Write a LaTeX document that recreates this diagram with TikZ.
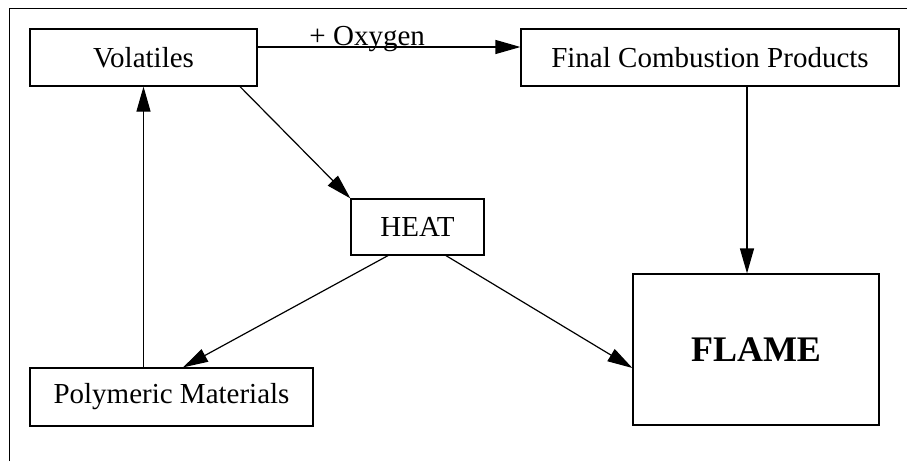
\documentclass[tikz,border=0pt]{standalone}
\usepackage{fontspec}
\setmainfont{Liberation Serif}
\usetikzlibrary{arrows.meta}
\tikzset{
	box/.style={draw, line width=1.2pt, inner sep=0pt, font=\fontsize{29}{34}\selectfont},
	link/.style={line width=1.2pt, -{Triangle[length=25pt,width=14pt]}}
}

\begin{document}
\begin{tikzpicture}[x=1pt, y=-1pt]
			%%%%% START %%%%%
			\useasboundingbox (0, 0) rectangle (907, 461);
			
			\draw[line width=1.5pt] (9.5, 461) -- (9.5, 8.5) -- (907, 8.5);
			
			\node[box, minimum width=227pt, minimum height=57pt] (vol) at (143.5, 57.5) {Volatiles};
			\node[box, minimum width=378pt, minimum height=57pt] (fin) at (710, 57.5) {Final Combustion Products};
			\node[box, minimum width=133pt, minimum height=56pt] (heat) at (417.5, 227) {HEAT};
			\node[box, minimum width=283pt, minimum height=58pt] (poly) at (171.5, 397) {Polymeric Materials};
			\node[box, minimum width=246pt, minimum height=151pt, font=\fontsize{36}{42}\selectfont\bfseries] (flame) at (756, 349.5) {FLAME};
			
			\draw[link] ([yshift=10.5pt]vol.east) -- ([yshift=10.5pt]fin.west)
				node[pos=0.417, anchor=base, yshift=2pt, font=\fontsize{29}{34}\selectfont] {+ Oxygen};
			\draw[link] ([xshift=96.5pt]vol.south) -- (heat.north west);
			\draw[link] (poly.north -| vol.south) -- (vol.south);
			\draw[link] ([xshift=-29.5pt]heat.south) -- ([xshift=11.5pt]poly.north);
			\draw[link] ([xshift=28.5pt]heat.south) -- ([yshift=-18.5pt]flame.west);
			\draw[link] ([xshift=37pt]fin.south) -- ([xshift=37pt]fin.south |- flame.north);
			
			%%%%% END %%%%%
\end{tikzpicture}
\end{document}
